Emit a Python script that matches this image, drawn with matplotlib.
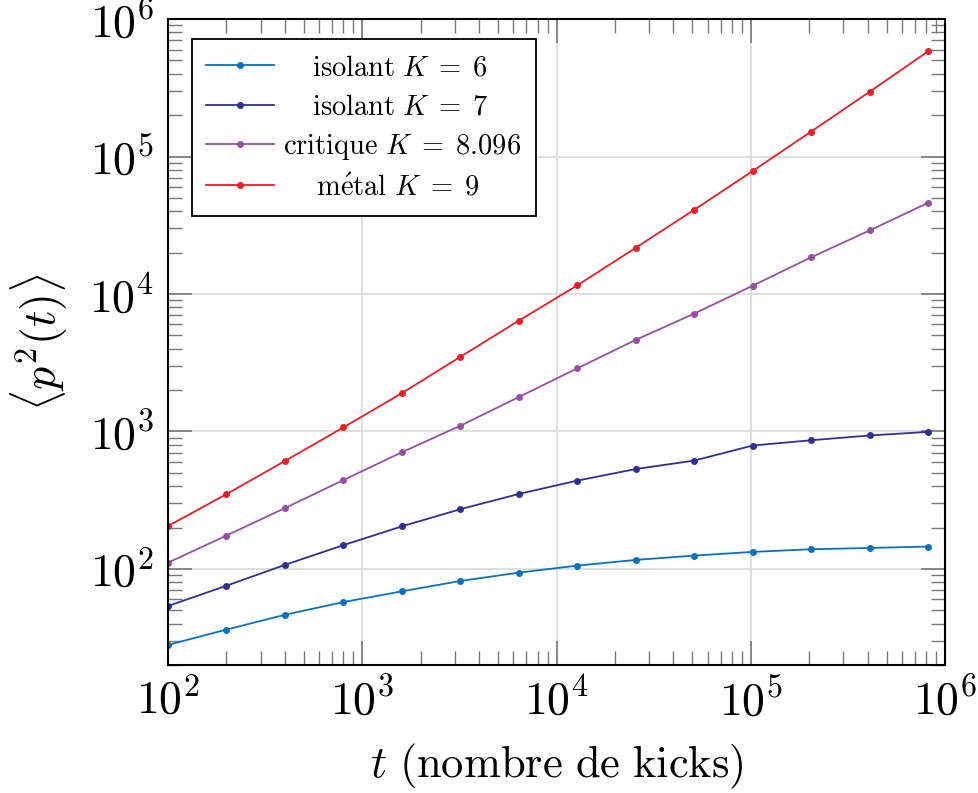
import numpy as np
import matplotlib
matplotlib.use('Agg')
import matplotlib.pyplot as plt
from matplotlib.ticker import LogLocator, FuncFormatter, NullFormatter

plt.rcParams['mathtext.fontset'] = 'cm'
plt.rcParams['axes.unicode_minus'] = False

# kicks: 100 * 2^k
t = [100, 200, 400, 800, 1600, 3200, 6400, 12800, 25600, 51200,
     102400, 204800, 409600, 819200]

p2_k6 = [28.0, 36.2, 46.4, 57.4, 68.7, 81.7, 94, 105.7, 116.3, 125,
         133, 139, 142, 145.5]
p2_k7 = [53.7, 75.5, 107, 149, 204, 272, 351, 439, 533, 614,
         790, 863, 935, 993]
p2_crit = [111, 175, 277, 443, 706, 1100, 1780, 2880, 4640, 7200,
           11500, 18500, 29000, 46100]
p2_k9 = [205, 350, 610, 1070, 1900, 3490, 6400, 11560, 21700, 41000,
         78500, 152000, 296000, 583000]

# leading spaces mimic the centred legend entries of the original
labels = [r'$\quad\,\mathrm{isolant}\ K\;=\;6$',
          r'$\quad\,\mathrm{isolant}\ K\;=\;7$',
          r'$\mathrm{critique}\ K\;=\;8.096$',
          r'$\quad\ \mathrm{m\acute{e}tal}\ K\;=\;9$']
colors = ['#0a72bd', '#2e3192', '#984ea3', '#ee1c25']

fig = plt.figure(figsize=(9.79, 7.93), dpi=100)
ax = fig.add_axes([0.1716, 0.1614, 0.7937, 0.8146])

for y, lab, c in zip([p2_k6, p2_k7, p2_crit, p2_k9], labels, colors):
    ax.plot(t, y, '-o', color=c, lw=1.3, ms=4, label=lab)

ax.set_xscale('log')
ax.set_yscale('log')
ax.set_xlim(1e2, 1e6)
ax.set_ylim(20, 1e6)

fmt = FuncFormatter(lambda v, pos: r'$10^{%d}$' % round(np.log10(v)))
for axis in (ax.xaxis, ax.yaxis):
    axis.set_major_locator(LogLocator(base=10, numticks=20))
    axis.set_minor_locator(LogLocator(base=10, subs=np.arange(2, 10), numticks=20))
    axis.set_major_formatter(fmt)
    axis.set_minor_formatter(NullFormatter())

ax.tick_params(which='both', direction='in', top=True, right=True,
               color='#777777', labelsize=33)
ax.tick_params(which='major', length=17, width=1.2, pad=10)
ax.tick_params(which='minor', length=10, width=1)
ax.grid(True, which='major', color='#dcdcdc', lw=1.3)
ax.set_axisbelow(True)
for s in ax.spines.values():
    s.set_linewidth(1.5)

ax.set_xlabel(r'$t\ \mathrm{(nombre\ de\ kicks)}$', fontsize=32, labelpad=12)
ax.set_ylabel(r'$\langle p^2(t)\rangle$', fontsize=33, labelpad=14)

leg = ax.legend(loc='upper left', bbox_to_anchor=(0.0305, 0.969),
                borderaxespad=0, fontsize=20.5, handlelength=2.38,
                handletextpad=0.34, labelspacing=0.4, borderpad=0.5,
                fancybox=False, framealpha=1)
leg.get_frame().set_edgecolor('black')
leg.get_frame().set_linewidth(1.3)

fig.savefig('out.png', dpi=100)
